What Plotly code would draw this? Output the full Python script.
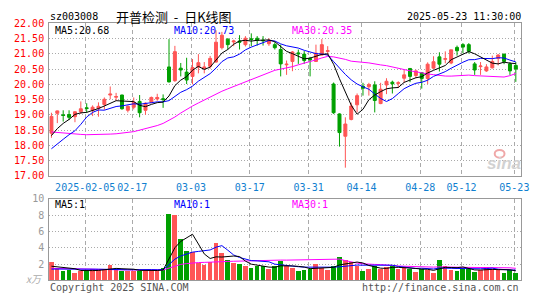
import numpy as np
import pandas as pd
import plotly.graph_objects as go

dates = [
    "2025-01-20", "2025-01-21", "2025-01-22", "2025-01-23", "2025-01-24", "2025-01-27",
    "2025-02-05", "2025-02-06", "2025-02-07", "2025-02-10", "2025-02-11", "2025-02-12",
    "2025-02-13", "2025-02-14", "2025-02-17", "2025-02-18", "2025-02-19", "2025-02-20",
    "2025-02-21", "2025-02-24", "2025-02-25", "2025-02-26", "2025-02-27", "2025-02-28",
    "2025-03-03", "2025-03-04", "2025-03-05", "2025-03-06", "2025-03-07", "2025-03-10",
    "2025-03-11", "2025-03-12", "2025-03-13", "2025-03-14", "2025-03-17", "2025-03-18",
    "2025-03-19", "2025-03-20", "2025-03-21", "2025-03-24", "2025-03-25", "2025-03-26",
    "2025-03-27", "2025-03-28", "2025-03-31", "2025-04-01", "2025-04-02", "2025-04-03",
    "2025-04-07", "2025-04-08", "2025-04-09", "2025-04-10", "2025-04-11", "2025-04-14",
    "2025-04-15", "2025-04-16", "2025-04-17", "2025-04-18", "2025-04-21", "2025-04-22",
    "2025-04-23", "2025-04-24", "2025-04-25", "2025-04-28", "2025-04-29", "2025-04-30",
    "2025-05-06", "2025-05-07", "2025-05-08", "2025-05-09", "2025-05-12", "2025-05-13",
    "2025-05-14", "2025-05-15", "2025-05-16", "2025-05-19", "2025-05-20", "2025-05-21",
    "2025-05-22", "2025-05-23",
]

open_ = [18.40, 19.05, 19.00, 19.01, 18.94, 19.10, 19.23, 19.15, 19.21, 19.34,
         19.65, 19.58, 19.65, 19.15, 19.25, 19.44, 19.15, 19.41, 19.52, 19.53,
         20.57, 20.12, 20.53, 20.40, 20.26, 20.57, 20.52, 20.59, 20.73, 21.20,
         21.48, 21.39, 21.42, 21.30, 21.49, 21.51, 21.45, 21.33, 21.30, 21.14,
         20.64, 20.75, 21.03, 20.99, 20.85, 20.75, 20.96, 21.08, 20.01, 19.03,
         18.30, 18.85, 19.33, 19.94, 19.92, 19.98, 19.37, 19.98, 20.07, 20.03,
         20.20, 20.52, 20.29, 20.38, 20.19, 20.53, 20.90, 20.82, 20.70, 21.21,
         21.30, 21.30, 20.67, 20.58, 20.44, 20.54, 20.85, 20.99, 20.67, 20.62]
high = [19.07, 19.14, 19.15, 19.15, 19.12, 19.44, 19.38, 19.31, 19.41, 19.57,
        19.93, 19.72, 19.66, 19.31, 19.57, 19.65, 19.41, 19.60, 19.69, 19.67,
        21.48, 21.26, 20.70, 20.87, 20.83, 20.99, 20.73, 20.93, 21.77, 21.72,
        21.51, 21.46, 21.61, 21.58, 21.67, 21.58, 21.58, 21.51, 21.38, 21.30,
        20.78, 21.09, 21.14, 21.09, 20.90, 21.30, 21.48, 21.25, 20.06, 19.05,
        18.92, 19.40, 19.70, 20.05, 20.05, 20.10, 20.05, 20.20, 20.12, 20.10,
        20.47, 20.52, 20.48, 20.40, 20.72, 20.92, 21.05, 21.08, 21.13, 21.27,
        21.35, 21.35, 20.73, 20.73, 20.66, 20.94, 20.99, 21.00, 20.73, 20.73]
low = [18.25, 18.73, 18.78, 18.83, 18.76, 19.03, 19.07, 18.96, 18.94, 19.17,
       19.51, 19.46, 19.17, 19.08, 19.18, 18.92, 19.00, 19.38, 19.46, 19.23,
       20.06, 20.08, 20.26, 20.01, 20.00, 20.36, 20.36, 20.51, 20.71, 21.14,
       21.14, 21.25, 21.14, 21.24, 21.25, 21.27, 21.27, 21.26, 21.14, 20.26,
       20.31, 20.43, 20.67, 20.67, 20.26, 20.73, 20.94, 20.94, 19.03, 17.96,
       17.27, 18.82, 19.08, 19.63, 19.63, 19.08, 19.35, 19.68, 19.70, 19.88,
       20.05, 20.07, 20.20, 19.86, 20.01, 20.51, 20.42, 20.69, 20.66, 20.94,
       21.02, 21.01, 20.31, 20.31, 20.41, 20.52, 20.62, 20.66, 20.31, 20.08]
close = [18.95, 19.13, 18.98, 18.92, 19.10, 19.20, 19.21, 19.25, 19.28, 19.51,
         19.68, 19.60, 19.20, 19.28, 19.41, 19.07, 19.38, 19.57, 19.57, 19.50,
         20.08, 21.07, 20.47, 20.14, 20.55, 20.71, 20.57, 20.85, 21.38, 21.61,
         21.30, 21.42, 21.38, 21.51, 21.47, 21.44, 21.43, 21.44, 21.20, 20.67,
         20.66, 21.06, 21.00, 20.78, 20.80, 21.02, 21.30, 21.10, 19.07, 18.42,
         18.70, 19.29, 19.63, 19.87, 19.99, 19.47, 19.84, 20.10, 20.02, 20.05,
         20.31, 20.26, 20.44, 20.19, 20.66, 20.74, 20.66, 20.84, 21.13, 21.10,
         21.22, 21.08, 20.47, 20.60, 20.57, 20.75, 20.96, 20.75, 20.44, 20.50]
volume = [2.3, 1.35, 1.2, 1.3, 0.95, 1.2, 1.1, 1.4, 1.4, 1.3,
          1.9, 1.3, 1.2, 1.2, 1.2, 1.2, 1.2, 1.2, 1.2, 1.5,
          8.1, 8.0, 5.1, 3.6, 3.5, 2.1, 1.9, 2.3, 4.6, 3.4,
          2.5, 2.1, 2.0, 1.8, 1.5, 1.7, 1.7, 1.4, 1.7, 2.4,
          1.8, 1.5, 1.15, 1.3, 1.4, 2.0, 1.5, 1.3, 1.75, 2.9,
          2.55, 2.25, 1.75, 1.15, 1.4, 1.75, 1.4, 1.6, 1.8, 1.4,
          1.6, 1.4, 1.05, 1.4, 1.3, 0.95, 2.55, 1.75, 1.3, 1.2,
          1.4, 1.4, 1.05, 1.25, 1.6, 1.4, 1.25, 0.95, 1.25, 0.95]

ma5_head = [18.32, 18.55, 18.72, 18.85]
ma10_head = [17.89, 18.06, 18.20, 18.35, 18.48, 18.69, 18.93, 19.08, 19.16]
ma30_head = [18.44, 18.42, 18.40, 18.38, 18.37, 18.36, 18.35, 18.35, 18.35, 18.36,
             18.37, 18.38, 18.40, 18.42, 18.45, 18.50, 18.55, 18.59, 18.65, 18.72,
             18.82, 18.93, 19.06, 19.18, 19.29, 19.39, 19.49, 19.58, 19.67]
vma5_head = [1.73, 1.65, 1.55, 1.45]
vma10_head = [1.38, 1.38, 1.38, 1.38, 1.45, 1.45, 1.40, 1.38, 1.36]
vma30_head = [1.46, 1.46, 1.46, 1.46, 1.44, 1.42, 1.40, 1.37, 1.34, 1.31,
              1.27, 1.27, 1.27, 1.27, 1.27, 1.27, 1.27, 1.27, 1.27, 1.27,
              1.50, 1.75, 1.95, 2.05, 2.15, 2.18, 2.20, 2.25, 2.30]

tick_dates = ["2025-02-05", "2025-02-17", "2025-03-03", "2025-03-17", "2025-03-31",
              "2025-04-14", "2025-04-28", "2025-05-12", "2025-05-23"]
tick_labels = ["2025-02-05", "02-17", "03-03", "03-17", "03-31",
               "04-14", "04-28", "05-12", "05-23"]
price_ticks = [17.0, 17.5, 18.0, 18.5, 19.0, 19.5, 20.0, 20.5, 21.0, 21.5, 22.0]
vol_ticks = [2, 4, 6, 8, 10]

stock_code = "sz003008"
title = "开普检测 - 日K线图"
timestamp = "2025-05-23 11:30:00"


def moving_avg(vals, n, head):
    s = pd.Series(vals, dtype=float).rolling(n).mean().to_numpy()
    s[: n - 1] = head
    return s


W, H = 545, 300
L_PX, R_PX = 50, 529.5
MAIN_TOP, MAIN_BOT = 18, 177
VOL_TOP, VOL_BOT = 201, 285.7

x = np.arange(len(dates))
idx_of = {d: i for i, d in enumerate(dates)}
tickvals = [idx_of[d] - 0.25 for d in tick_dates]

ma5 = moving_avg(close, 5, ma5_head)
ma10 = moving_avg(close, 10, ma10_head)
ma30 = moving_avg(close, 30, ma30_head)
vma5 = moving_avg(volume, 5, vma5_head)
vma10 = moving_avg(volume, 10, vma10_head)
vma30 = moving_avg(volume, 30, vma30_head)

RED = "#FF5555"
GREEN = "#00A000"
up = [c >= o for o, c in zip(open_, close)]
bar_colors = [RED if u else GREEN for u in up]

MONO = "DejaVu Sans Mono"

fig = go.Figure()
fig.add_trace(go.Candlestick(
    x=x, open=open_, high=high, low=low, close=close,
    increasing=dict(line=dict(color=RED, width=1), fillcolor=RED),
    decreasing=dict(line=dict(color=GREEN, width=1), fillcolor=GREEN),
    whiskerwidth=0, xaxis="x", yaxis="y", hoverinfo="skip", showlegend=False,
))
for vals, col in [(ma30, "#FF00FF"), (ma10, "#0000FF"), (ma5, "#000000")]:
    fig.add_trace(go.Scatter(x=x, y=vals, mode="lines", line=dict(color=col, width=1),
                             xaxis="x", yaxis="y", showlegend=False, hoverinfo="skip"))

fig.add_trace(go.Bar(x=x, y=volume, marker=dict(color=bar_colors, line=dict(width=0)),
                     width=0.8, xaxis="x2", yaxis="y2", showlegend=False, hoverinfo="skip"))
for vals, col in [(vma30, "#FF00FF"), (vma10, "#0000FF"), (vma5, "#000000")]:
    fig.add_trace(go.Scatter(x=x, y=vals, mode="lines", line=dict(color=col, width=1),
                             xaxis="x2", yaxis="y2", showlegend=False, hoverinfo="skip"))

xdom = [L_PX / W, R_PX / W]
xr = [-0.385, len(dates) - 1 + 0.84]
axis_common = dict(showline=True, mirror=True, linecolor="#999999", linewidth=1,
                   zeroline=False, ticks="", fixedrange=True)

fig.update_layout(
    width=W, height=H, margin=dict(l=0, r=0, t=0, b=0),
    paper_bgcolor="white", plot_bgcolor="white", bargap=0, boxgap=0.28,
    xaxis=dict(domain=xdom, range=xr, tickmode="array", tickvals=tickvals,
               ticktext=tick_labels, tickangle=0,
               tickfont=dict(family=MONO, size=10, color="#1080D0"),
               showgrid=True, gridcolor="#AAAAAA", griddash="4px,3px", gridwidth=1,
               rangeslider=dict(visible=False), anchor="y", ticklabelstandoff=2,
               **axis_common),
    yaxis=dict(domain=[1 - MAIN_BOT / H, 1 - MAIN_TOP / H], range=[17, 22],
               tickmode="array", tickvals=price_ticks,
               ticktext=[f"{v:.2f}" for v in price_ticks],
               tickfont=dict(family=MONO, size=10, color="#FF0000"),
               showgrid=True, gridcolor="#AAAAAA", griddash="1px,2px", gridwidth=1,
               anchor="x", ticklabelstandoff=2, **axis_common),
    xaxis2=dict(domain=xdom, range=xr, tickmode="array", tickvals=tickvals,
                showticklabels=False, showgrid=True, gridcolor="#AAAAAA",
                griddash="4px,3px", gridwidth=1, anchor="y2", **axis_common),
    yaxis2=dict(domain=[1 - VOL_BOT / H, 1 - VOL_TOP / H], range=[0, 10],
                tickmode="array", tickvals=vol_ticks, ticktext=[str(v) for v in vol_ticks],
                tickfont=dict(family=MONO, size=10, color="#999999"),
                showgrid=True, gridcolor="#AAAAAA", griddash="1px,2px", gridwidth=1,
                anchor="x2", ticklabelstandoff=2, **axis_common),
)


def px_ann(text, px, py, color="#000000", size=10, family=MONO, xanchor="left", **kw):
    fig.add_annotation(text=text, x=px / W, y=1 - py / H, xref="paper", yref="paper",
                       xanchor=xanchor, yanchor="middle", showarrow=False,
                       font=dict(family=family, size=size, color=color), **kw)


px_ann(stock_code, 49, 11)
px_ann("开普检测 &nbsp;- &nbsp;日K线图", 177, 11, size=13, family="Noto Sans CJK SC",
       xanchor="center")
px_ann(timestamp, 532, 11, xanchor="right")

px_ann(f"MA5:{ma5[-1]:.2f}", 54, 25)
px_ann(f"MA10:{ma10[-1]:.2f}", 175, 25, color="#0000FF")
px_ann(f"MA30:{ma30[-1]:.2f}", 295, 25, color="#FF00FF")

px_ann(f"MA5:{vma5[-1]:.0f}", 54, 207)
px_ann(f"MA10:{vma10[-1]:.0f}", 175, 207, color="#0000FF")
px_ann(f"MA30:{vma30[-1]:.0f}", 295, 207, color="#FF00FF")

px_ann("<i>x万</i>", 46, 284, color="#AAAAAA", family="Noto Sans CJK SC", xanchor="right")
px_ann("Copyright 2025 SINA.COM", 49, 293, color="#555555")
px_ann("http://finance.sina.com.cn", 530, 293, color="#555555", xanchor="right")
px_ann("<b><i>sina</i></b>", 512, 164, color="#D2D2D2", size=17, family="Liberation Sans",
       xanchor="center")
# small pink "eye" logo above the watermark
fig.add_shape(type="circle", xref="paper", yref="paper",
              x0=503 / W, x1=513 / W, y0=1 - 158 / H, y1=1 - 150 / H,
              line=dict(color="#F0A8A8", width=2), fillcolor="rgba(0,0,0,0)")

fig.write_html("out.html")
